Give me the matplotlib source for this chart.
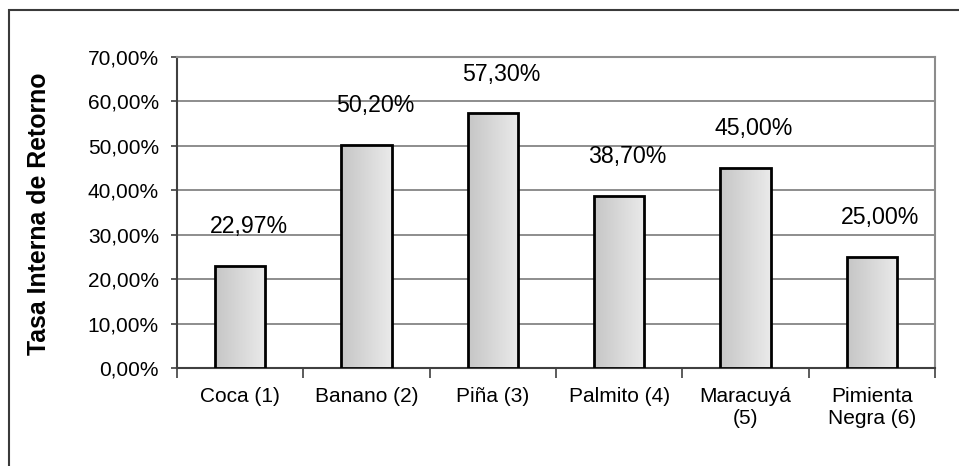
import matplotlib
matplotlib.use("Agg")
import matplotlib.pyplot as plt
import matplotlib.ticker as mticker
from matplotlib.patches import Rectangle
import numpy as np

plt.rcParams["font.family"] = ["Liberation Sans", "DejaVu Sans"]

# ─── Datos ───────────────────────────────────────────────────────────────────
cultivos = ["Coca (1)", "Banano (2)", "Piña (3)", "Palmito (4)",
            "Maracuyá\n(5)", "Pimienta\nNegra (6)"]
tir = [22.97, 50.20, 57.30, 38.70, 45.00, 25.00]
etiquetas = ["22,97%", "50,20%", "57,30%", "38,70%", "45,00%", "25,00%"]

W, H = 959, 466
fig = plt.figure(figsize=(W / 100, H / 100), dpi=100)
ax = fig.add_axes([177 / W, 1 - 368 / H, (935 - 177) / W, (368 - 57) / H])

# marco exterior (recortado por la derecha y por abajo)
fig.patches.append(Rectangle((9 / W, -0.05), 1.2, 1 - 10 / H + 0.05,
                             transform=fig.transFigure, fill=False,
                             edgecolor="#3a3a3a", linewidth=1.5, zorder=0))

x = np.arange(len(tir))
ancho = 0.4
grad = np.linspace(0, 1, 64).reshape(1, -1)
cmap = matplotlib.colors.LinearSegmentedColormap.from_list("g", ["#c6c6c6", "#eaeaea"])

bars = ax.bar(x, tir, width=ancho, facecolor="none", edgecolor="black",
              linewidth=2.0, zorder=4)
for b in bars:
    x0, h = b.get_x(), b.get_height()
    im = ax.imshow(grad, extent=[x0, x0 + ancho, 0, h], aspect="auto",
                   cmap=cmap, zorder=3, interpolation="bilinear")
    im.set_clip_path(b)

for xi, v, lbl in zip(x, tir, etiquetas):
    ax.annotate(lbl, xy=(xi, v), xytext=(6, 20), textcoords="offset points",
                ha="center", va="bottom", fontsize=16.7, color="black")

ax.set_xlim(-0.5, 5.5)
ax.set_ylim(0, 70)
ax.set_yticks(np.arange(0, 71, 10))
ax.yaxis.set_major_formatter(mticker.FuncFormatter(lambda v, _: f"{v:.2f}%".replace(".", ",")))
ax.grid(True, axis="y", color="#7a7a7a", linewidth=1.2, zorder=1)
ax.set_axisbelow(True)

ax.set_xticks(np.arange(-0.5, 6, 1))
ax.set_xticklabels([])
ax.set_xticks(x, minor=True)
ax.set_xticklabels(cultivos, minor=True, fontsize=15)
ax.tick_params(axis="x", which="major", length=7, width=1.2, color="#404040")
ax.tick_params(axis="x", which="minor", length=0, pad=14)
ax.tick_params(axis="y", length=4, width=1.2, color="#404040", labelsize=15, pad=9)

for s in ("top", "right"):
    ax.spines[s].set_color("#8c8c8c")
    ax.spines[s].set_linewidth(1.5)
for s in ("left", "bottom"):
    ax.spines[s].set_color("#404040")
    ax.spines[s].set_linewidth(1.5)

fig.text(39 / W, 1 - 214 / H, "Tasa Interna de Retorno", rotation=90,
         ha="center", va="center", fontsize=17.9, fontweight="bold")

fig.savefig("out.png", dpi=100)
